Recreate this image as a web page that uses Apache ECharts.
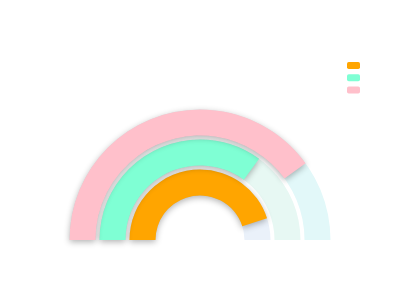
<!DOCTYPE html>
<html>
<head>
<meta charset="utf-8">
<script src="https://cdn.jsdelivr.net/npm/echarts@6/dist/echarts.min.js"></script>
<style>html,body{margin:0;padding:0;background:#fff;}#c{width:400px;height:300px;}</style>
</head>
<body>
<div id="c"></div>
<script>
var categories = ['A', 'B', 'C'];
var seriesNames = ['A', 'B', 'C'];
var orangeValues = [90, '-', '-'];
var greenValues = ['-', 70, '-'];
var pinkValues = ['-', '-', 80];
var backgroundValues = [100, 100, 100];
var colors = ['#FFA500', '#7FFFD4', '#FFC0CB'];
var bgColors = ['#eaf1fa', '#e7f8f3', '#e2f8f9'];

var chart = echarts.init(document.getElementById('c'), null, {renderer: 'canvas'});
var shadow = {shadowBlur: 6, shadowColor: 'rgba(0,0,0,0.3)', shadowOffsetY: 2};
function bar(name, data, z, style) {
  return {
    type: 'bar', coordinateSystem: 'polar', name: name,
    barCategoryGap: 4, barGap: '-100%', z: z,
    data: data, itemStyle: style
  };
}
var bgSeries = bar('bg', backgroundValues.map(function (v, i) {
  return {value: v, itemStyle: {color: bgColors[i]}};
}), 1, {});
bgSeries.silent = true;
var option = {
  animation: false,
  legend: {
    data: seriesNames,
    orient: 'vertical',
    left: 342,
    top: 57,
    itemWidth: 13,
    itemHeight: 7,
    itemGap: 5.3,
    icon: 'roundRect',
    formatter: function () { return ''; }
  },
  polar: {center: [200, 240], radius: [42.5, 132.5]},
  angleAxis: {
    type: 'value', min: 0, max: 100, startAngle: 180, endAngle: 0,
    show: false
  },
  radiusAxis: {type: 'category', data: categories, show: false},
  series: [
    bgSeries,
    bar(seriesNames[0], orangeValues, 2, Object.assign({color: colors[0]}, shadow)),
    bar(seriesNames[1], greenValues, 2, Object.assign({color: colors[1]}, shadow)),
    bar(seriesNames[2], pinkValues, 2, Object.assign({color: colors[2]}, shadow))
  ]
};
chart.setOption(option);
</script>
</body>
</html>
